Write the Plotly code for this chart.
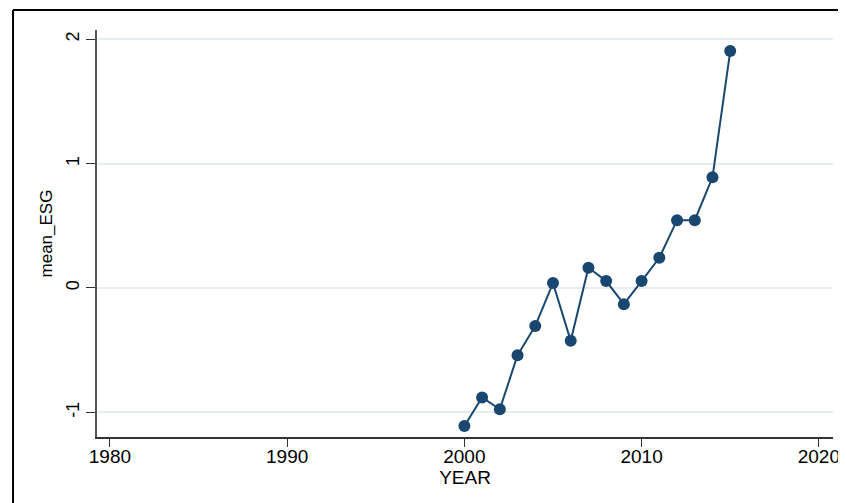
import plotly.graph_objects as go

# mean ESG score by year
years = [2000, 2001, 2002, 2003, 2004, 2005, 2006, 2007,
         2008, 2009, 2010, 2011, 2012, 2013, 2014, 2015]
mean_esg = [-1.11, -0.88, -0.975, -0.54, -0.305, 0.04, -0.425, 0.163,
            0.056, -0.13, 0.056, 0.243, 0.545, 0.545, 0.89, 1.905]

x_ticks = [1980, 1990, 2000, 2010, 2020]
y_ticks = [-1, 0, 1, 2]
y_tick_text = ["-1", "0", "1", "2"]

NAVY = "#1a476f"
GRID = "#e6eef1"
FONT = "Liberation Sans, Arial, sans-serif"

fig = go.Figure()
fig.add_trace(
    go.Scatter(
        x=years,
        y=mean_esg,
        mode="lines+markers",
        line=dict(color=NAVY, width=2),
        marker=dict(color=NAVY, size=12),
        showlegend=False,
    )
)

# the outer frame of the original graph is cropped: only left and top edges show
frame = dict(color="black", width=2)

# page body keeps its default 8px margin (top/left), the figure runs to the window edge
fig.update_layout(
    width=838,
    height=495,
    autosize=False,
    paper_bgcolor="white",
    plot_bgcolor="white",
    margin=dict(l=89, r=13, t=22, b=66),
    font=dict(family=FONT, color="black"),
    shapes=[
        dict(type="line", xref="paper", yref="paper",
             x0=-0.1141, x1=-0.1141, y0=-0.3, y1=1.0491, line=frame),
        dict(type="line", xref="paper", yref="paper",
             x0=-0.1141, x1=1.05, y0=1.0491, y1=1.0491, line=frame),
    ],
)

fig.update_xaxes(
    range=[1979.27, 2020.8],
    tickvals=x_ticks,
    ticks="outside",
    ticklen=8,
    tickwidth=1.2,
    tickcolor="#333",
    ticklabeloverflow="allow",
    ticklabelstandoff=-7,
    automargin=False,
    showline=True,
    linecolor="#333",
    linewidth=1.5,
    showgrid=False,
    zeroline=False,
    tickfont=dict(size=19),
    title=dict(text="YEAR", font=dict(size=19), standoff=0),
)
fig.update_yaxes(
    range=[-1.198, 2.074],
    tickvals=y_ticks,
    ticktext=y_tick_text,
    ticks="outside",
    ticklen=9,
    tickwidth=1.2,
    tickcolor="#333",
    tickangle=-90,
    automargin=False,
    showline=True,
    linecolor="#555",
    linewidth=1.5,
    showgrid=True,
    gridcolor=GRID,
    gridwidth=1.5,
    zeroline=False,
    tickfont=dict(size=18),
    title=dict(text="mean_ESG", font=dict(size=17), standoff=6),
)

fig.write_html("out.html")
